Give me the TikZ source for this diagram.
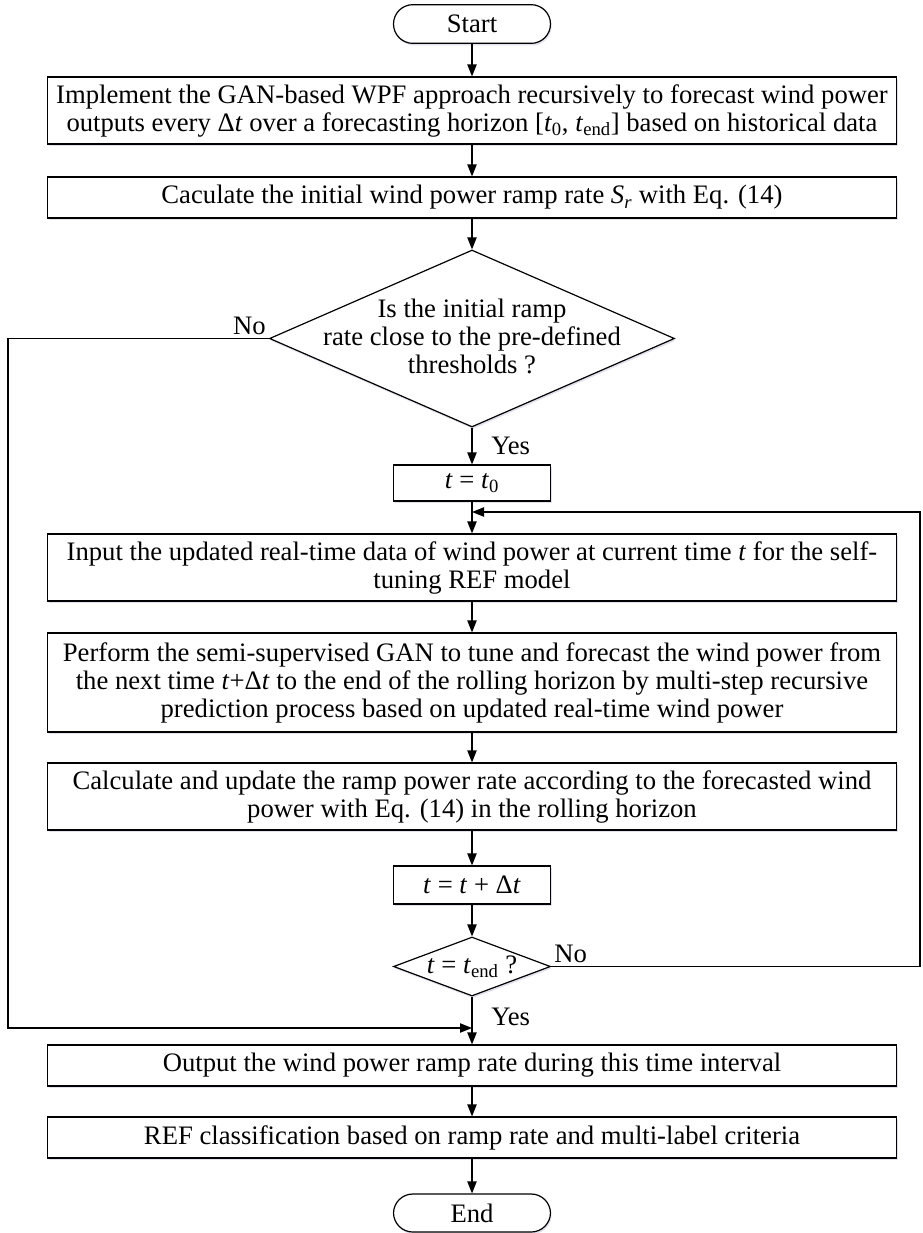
\documentclass[tikz,border=0pt]{standalone}
\usepackage{fontspec}
\setmainfont{Liberation Serif}
\usetikzlibrary{shapes.geometric,arrows.meta,shadows}

\newcommand{\zerobox}[1]{\smash{\raisebox{-0.3em}{\makebox[0pt]{\begin{tabular}{@{}c@{}}#1\end{tabular}}}}}

\begin{document}
\begin{tikzpicture}[
    x=0.75pt, y=-0.75pt,
    line width=0.9pt,
    >={Triangle[length=9pt,width=7pt]},
    font=\fontsize{20}{21}\selectfont,
    shadowed/.style={drop shadow={shadow xshift=0.8pt, shadow yshift=-1.6pt, fill=blue!25!gray, opacity=0.18}},
    process/.style={rectangle, draw, fill=white, minimum width=636.75pt, align=center, inner sep=2pt, shadowed},
    smallbox/.style={rectangle, draw, fill=white, minimum width=117.75pt, minimum height=27pt, inner sep=1pt, shadowed},
    terminal/.style={rectangle, rounded corners=14.5pt, draw, fill=white, minimum width=117.75pt, minimum height=29pt, inner sep=1pt, shadowed},
    decision/.style={diamond, draw, fill=white, inner sep=0pt, shadowed}
]
\useasboundingbox (0,0) rectangle (923,1233);

% Start and forecasting
\node[terminal] (start) at (472,24) {Start};
\node[process, minimum height=50.25pt] (impl) at (472,110.5) {Implement the GAN-based WPF approach recursively to forecast wind power\\outputs every Δ\textit{t} over a forecasting horizon [\textit{t}\textsubscript{0}, \textit{t}\textsubscript{end}] based on historical data};
\node[process, minimum height=30.75pt] (init) at (472,197.5) {Caculate the initial wind power ramp rate \textit{S\textsubscript{r}} with Eq. (14)};
\node[decision, minimum width=303.75pt, minimum height=132.75pt] (dec1) at (472,338.5) {\zerobox{Is the initial ramp\\rate close to the pre-defined\\thresholds ?}};

% Rolling loop
\node[smallbox] (tzero) at (472,483) {\textit{t} = \textit{t}\textsubscript{0}};
\node[process, minimum height=50.25pt] (input) at (472,567.5) {Input the updated real-time data of wind power at current time \textit{t} for the self-\\tuning REF model};
\node[process, minimum height=74.25pt] (gan) at (472,682.5) {Perform the semi-supervised GAN to tune and forecast the wind power from\\the next time \textit{t}+Δ\textit{t} to the end of the rolling horizon by multi-step recursive\\prediction process based on updated real-time wind power};
\node[process, minimum height=50.25pt] (update) at (472,796.5) {Calculate and update the ramp power rate according to the forecasted wind\\power with Eq. (14) in the rolling horizon};
\node[smallbox, minimum height=28.5pt] (tstep) at (472,885) {\textit{t} = \textit{t} + Δ\textit{t}};
\node[decision, minimum width=117.75pt, minimum height=44.25pt] (dec2) at (472,966.5) {\zerobox{\textit{t} = \textit{t}\textsubscript{end} ?}};

% Output and end
\node[process, minimum height=30.75pt] (output) at (472,1065.5) {Output the wind power ramp rate during this time interval};
\node[process, minimum height=30.75pt] (classify) at (472,1137.5) {REF classification based on ramp rate and multi-label criteria};
\node[terminal, minimum height=28.5pt] (end) at (472,1213) {End};

% Labels
\node[anchor=south east, inner sep=2pt] (no1) at (dec1.west) {No};
\node[anchor=west, inner sep=2pt] (yes1) at (488,446) {Yes};
\node[anchor=south west, inner sep=2pt] (no2) at (dec2.east) {No};
\node[anchor=west, inner sep=2pt] (yes2) at (488,1017) {Yes};

% Bends
\coordinate (back) at (472,512);
\coordinate (skip) at (472,1028);
\coordinate (rside) at (920,512);
\coordinate (lside) at (8,1028);

% Edges
\draw[->] (start) -- (impl);
\draw[->] (impl) -- (init);
\draw[->] (init) -- (dec1);
\draw[->] (dec1) -- (tzero);
\draw[->] (tzero) -- (input);
\draw[->] (input) -- (gan);
\draw[->] (gan) -- (update);
\draw[->] (update) -- (tstep);
\draw[->] (tstep) -- (dec2);
\draw[->] (dec2) -- (output);
\draw[->] (output) -- (classify);
\draw[->] (classify) -- (end);
\draw[->] (dec2.east) -- (dec2.east -| rside) -- (rside) -- (back);
\draw[->] (dec1.west) -- (dec1.west -| lside) -- (lside) -- (skip);

\end{tikzpicture}
\end{document}
